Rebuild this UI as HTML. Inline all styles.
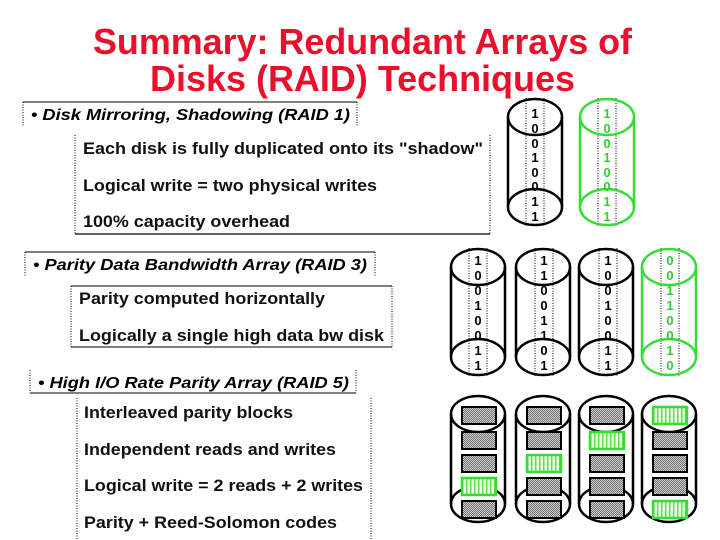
<!DOCTYPE html>
<html><head><meta charset="utf-8"><style>
body{margin:0;background:#fff}
svg{display:block}
text{font-family:"Liberation Sans",Arial,sans-serif}
</style></head><body>
<svg width="720" height="540" viewBox="0 0 720 540" xmlns="http://www.w3.org/2000/svg">
<defs>
<pattern id="chk" width="2" height="2" patternUnits="userSpaceOnUse"><rect width="2" height="2" fill="#d0d0d0"/><rect width="1" height="1" fill="#707070"/><rect x="1" y="1" width="1" height="1" fill="#707070"/></pattern>
<pattern id="str" width="4" height="4" patternUnits="userSpaceOnUse"><rect width="4" height="4" fill="#e6fbe0"/><rect width="1.5" height="4" fill="#66dd55"/></pattern>
<g id="cylK" fill="none" stroke="#000" stroke-width="2.5"><ellipse cx="28" cy="19" rx="27" ry="18"/><ellipse cx="28" cy="109" rx="27" ry="18"/><line x1="1" y1="19" x2="1" y2="109"/><line x1="55" y1="19" x2="55" y2="109"/></g>
<g id="cylG" fill="none" stroke="#33dd33" stroke-width="2.5"><ellipse cx="28" cy="19" rx="27" ry="18"/><ellipse cx="28" cy="109" rx="27" ry="18"/><line x1="1" y1="19" x2="1" y2="109"/><line x1="55" y1="19" x2="55" y2="109"/></g>
<g id="dots" stroke="#000" stroke-width="1" stroke-dasharray="1,1.5"><line x1="-9" y1="0" x2="-9" y2="128"/><line x1="9" y1="0" x2="9" y2="128"/></g>
<rect id="gb" width="34" height="17" fill="url(#chk)" stroke="#000" stroke-width="2"/>
<rect id="pb" width="34" height="17" fill="url(#str)" stroke="#33dd33" stroke-width="2.5"/>
</defs>

<text x="93" y="54" textLength="539" lengthAdjust="spacingAndGlyphs" font-size="36" font-weight="bold" fill="#e8102a">Summary: Redundant Arrays of</text>
<text x="150" y="91" textLength="425" lengthAdjust="spacingAndGlyphs" font-size="36" font-weight="bold" fill="#e8102a">Disks (RAID) Techniques</text>

<g fill="none" stroke="#000">
<line x1="23" y1="102" x2="357" y2="102" stroke-width="1"/>
<line x1="23" y1="102" x2="23" y2="127" stroke-dasharray="1,1.5"/>
<line x1="357" y1="102" x2="357" y2="127" stroke-dasharray="1,1.5"/>
<line x1="75" y1="135" x2="75" y2="234" stroke-dasharray="1,1.5"/>
<line x1="490" y1="135" x2="490" y2="234" stroke-dasharray="1,1.5"/>
<line x1="75" y1="234" x2="490" y2="234" stroke-width="1.2"/>
<line x1="25" y1="252" x2="375" y2="252"/>
<line x1="25" y1="252" x2="25" y2="277" stroke-dasharray="1,1.5"/>
<line x1="375" y1="252" x2="375" y2="277" stroke-dasharray="1,1.5"/>
<line x1="71" y1="286" x2="392" y2="286"/>
<line x1="71" y1="347" x2="392" y2="347"/>
<line x1="71" y1="286" x2="71" y2="347" stroke-dasharray="1,1.5"/>
<line x1="392" y1="286" x2="392" y2="347" stroke-dasharray="1,1.5"/>
<line x1="30" y1="393" x2="356" y2="393"/>
<line x1="30" y1="370" x2="30" y2="393" stroke-dasharray="1,1.5"/>
<line x1="356" y1="370" x2="356" y2="393" stroke-dasharray="1,1.5"/>
<line x1="77" y1="398" x2="77" y2="540" stroke-dasharray="1,1.5"/>
<line x1="371" y1="398" x2="371" y2="540" stroke-dasharray="1,1.5"/>
</g>

<g font-size="16" font-weight="bold" font-style="italic">
<text x="31" y="120" textLength="319" lengthAdjust="spacingAndGlyphs">• Disk Mirroring, Shadowing (RAID 1)</text>
<text x="33" y="270" textLength="334" lengthAdjust="spacingAndGlyphs">• Parity Data Bandwidth Array (RAID 3)</text>
<text x="38" y="388" textLength="311" lengthAdjust="spacingAndGlyphs">• High I/O Rate Parity Array (RAID 5)</text>
</g>
<g font-size="17" font-weight="bold" fill="#111">
<text x="83" y="154" textLength="400" lengthAdjust="spacingAndGlyphs">Each disk is fully duplicated onto its "shadow"</text>
<text x="83" y="191" textLength="294" lengthAdjust="spacingAndGlyphs">Logical write = two physical writes</text>
<text x="83" y="227" textLength="207" lengthAdjust="spacingAndGlyphs">100% capacity overhead</text>
<text x="79" y="304" textLength="246" lengthAdjust="spacingAndGlyphs">Parity computed horizontally</text>
<text x="79" y="341" textLength="305" lengthAdjust="spacingAndGlyphs">Logically a single high data bw disk</text>
<text x="84" y="418" textLength="209" lengthAdjust="spacingAndGlyphs">Interleaved parity blocks</text>
<text x="84" y="455" textLength="252" lengthAdjust="spacingAndGlyphs">Independent reads and writes</text>
<text x="84" y="491" textLength="279" lengthAdjust="spacingAndGlyphs">Logical write = 2 reads + 2 writes</text>
<text x="84" y="528" textLength="253" lengthAdjust="spacingAndGlyphs">Parity + Reed-Solomon codes</text>
</g>

<use href="#dots" x="535" y="98"/>
<use href="#dots" x="607" y="98"/>
<use href="#cylK" x="507" y="98"/>
<use href="#cylG" x="579" y="98"/>
<g font-size="13" font-weight="bold" text-anchor="middle">
<g fill="#000"><text x="535" y="118">1</text><text x="535" y="133">0</text><text x="535" y="148">0</text><text x="535" y="162">1</text><text x="535" y="177">0</text><text x="535" y="191">0</text><text x="535" y="206">1</text><text x="535" y="221">1</text></g>
<g fill="#33cc33"><text x="607" y="118">1</text><text x="607" y="133">0</text><text x="607" y="148">0</text><text x="607" y="162">1</text><text x="607" y="177">0</text><text x="607" y="191">0</text><text x="607" y="206">1</text><text x="607" y="221">1</text></g>
</g>

<use href="#dots" x="478" y="248"/>
<use href="#dots" x="544" y="248"/>
<use href="#dots" x="608" y="248"/>
<use href="#dots" x="670" y="248"/>
<use href="#cylK" x="450" y="248"/>
<use href="#cylK" x="515" y="248"/>
<use href="#cylK" x="578" y="248"/>
<use href="#cylG" x="641" y="248"/>
<g font-size="13" font-weight="bold" text-anchor="middle">
<g><text x="478" y="265">1</text><text x="478" y="280">0</text><text x="478" y="295">0</text><text x="478" y="310">1</text><text x="478" y="325">0</text><text x="478" y="340">0</text><text x="478" y="355">1</text><text x="478" y="370">1</text></g>
<g><text x="544" y="265">1</text><text x="544" y="280">1</text><text x="544" y="295">0</text><text x="544" y="310">0</text><text x="544" y="325">1</text><text x="544" y="340">1</text><text x="544" y="355">0</text><text x="544" y="370">1</text></g>
<g><text x="608" y="265">1</text><text x="608" y="280">0</text><text x="608" y="295">0</text><text x="608" y="310">1</text><text x="608" y="325">0</text><text x="608" y="340">0</text><text x="608" y="355">1</text><text x="608" y="370">1</text></g>
<g fill="#33cc33"><text x="670" y="265">0</text><text x="670" y="280">0</text><text x="670" y="295">1</text><text x="670" y="310">1</text><text x="670" y="325">0</text><text x="670" y="340">0</text><text x="670" y="355">1</text><text x="670" y="370">0</text></g>
</g>

<use href="#cylK" x="450" y="395"/>
<use href="#cylK" x="515" y="395"/>
<use href="#cylK" x="578" y="395"/>
<use href="#cylK" x="641" y="395"/>
<use href="#gb" x="462" y="407"/><use href="#gb" x="462" y="432"/><use href="#gb" x="462" y="455"/><use href="#pb" x="462" y="478"/><use href="#gb" x="462" y="501"/>
<use href="#gb" x="527" y="407"/><use href="#gb" x="527" y="432"/><use href="#pb" x="527" y="455"/><use href="#gb" x="527" y="478"/><use href="#gb" x="527" y="501"/>
<use href="#gb" x="590" y="407"/><use href="#pb" x="590" y="432"/><use href="#gb" x="590" y="455"/><use href="#gb" x="590" y="478"/><use href="#gb" x="590" y="501"/>
<use href="#pb" x="653" y="407"/><use href="#gb" x="653" y="432"/><use href="#gb" x="653" y="455"/><use href="#gb" x="653" y="478"/><use href="#pb" x="653" y="501"/>
</svg>
</body></html>
